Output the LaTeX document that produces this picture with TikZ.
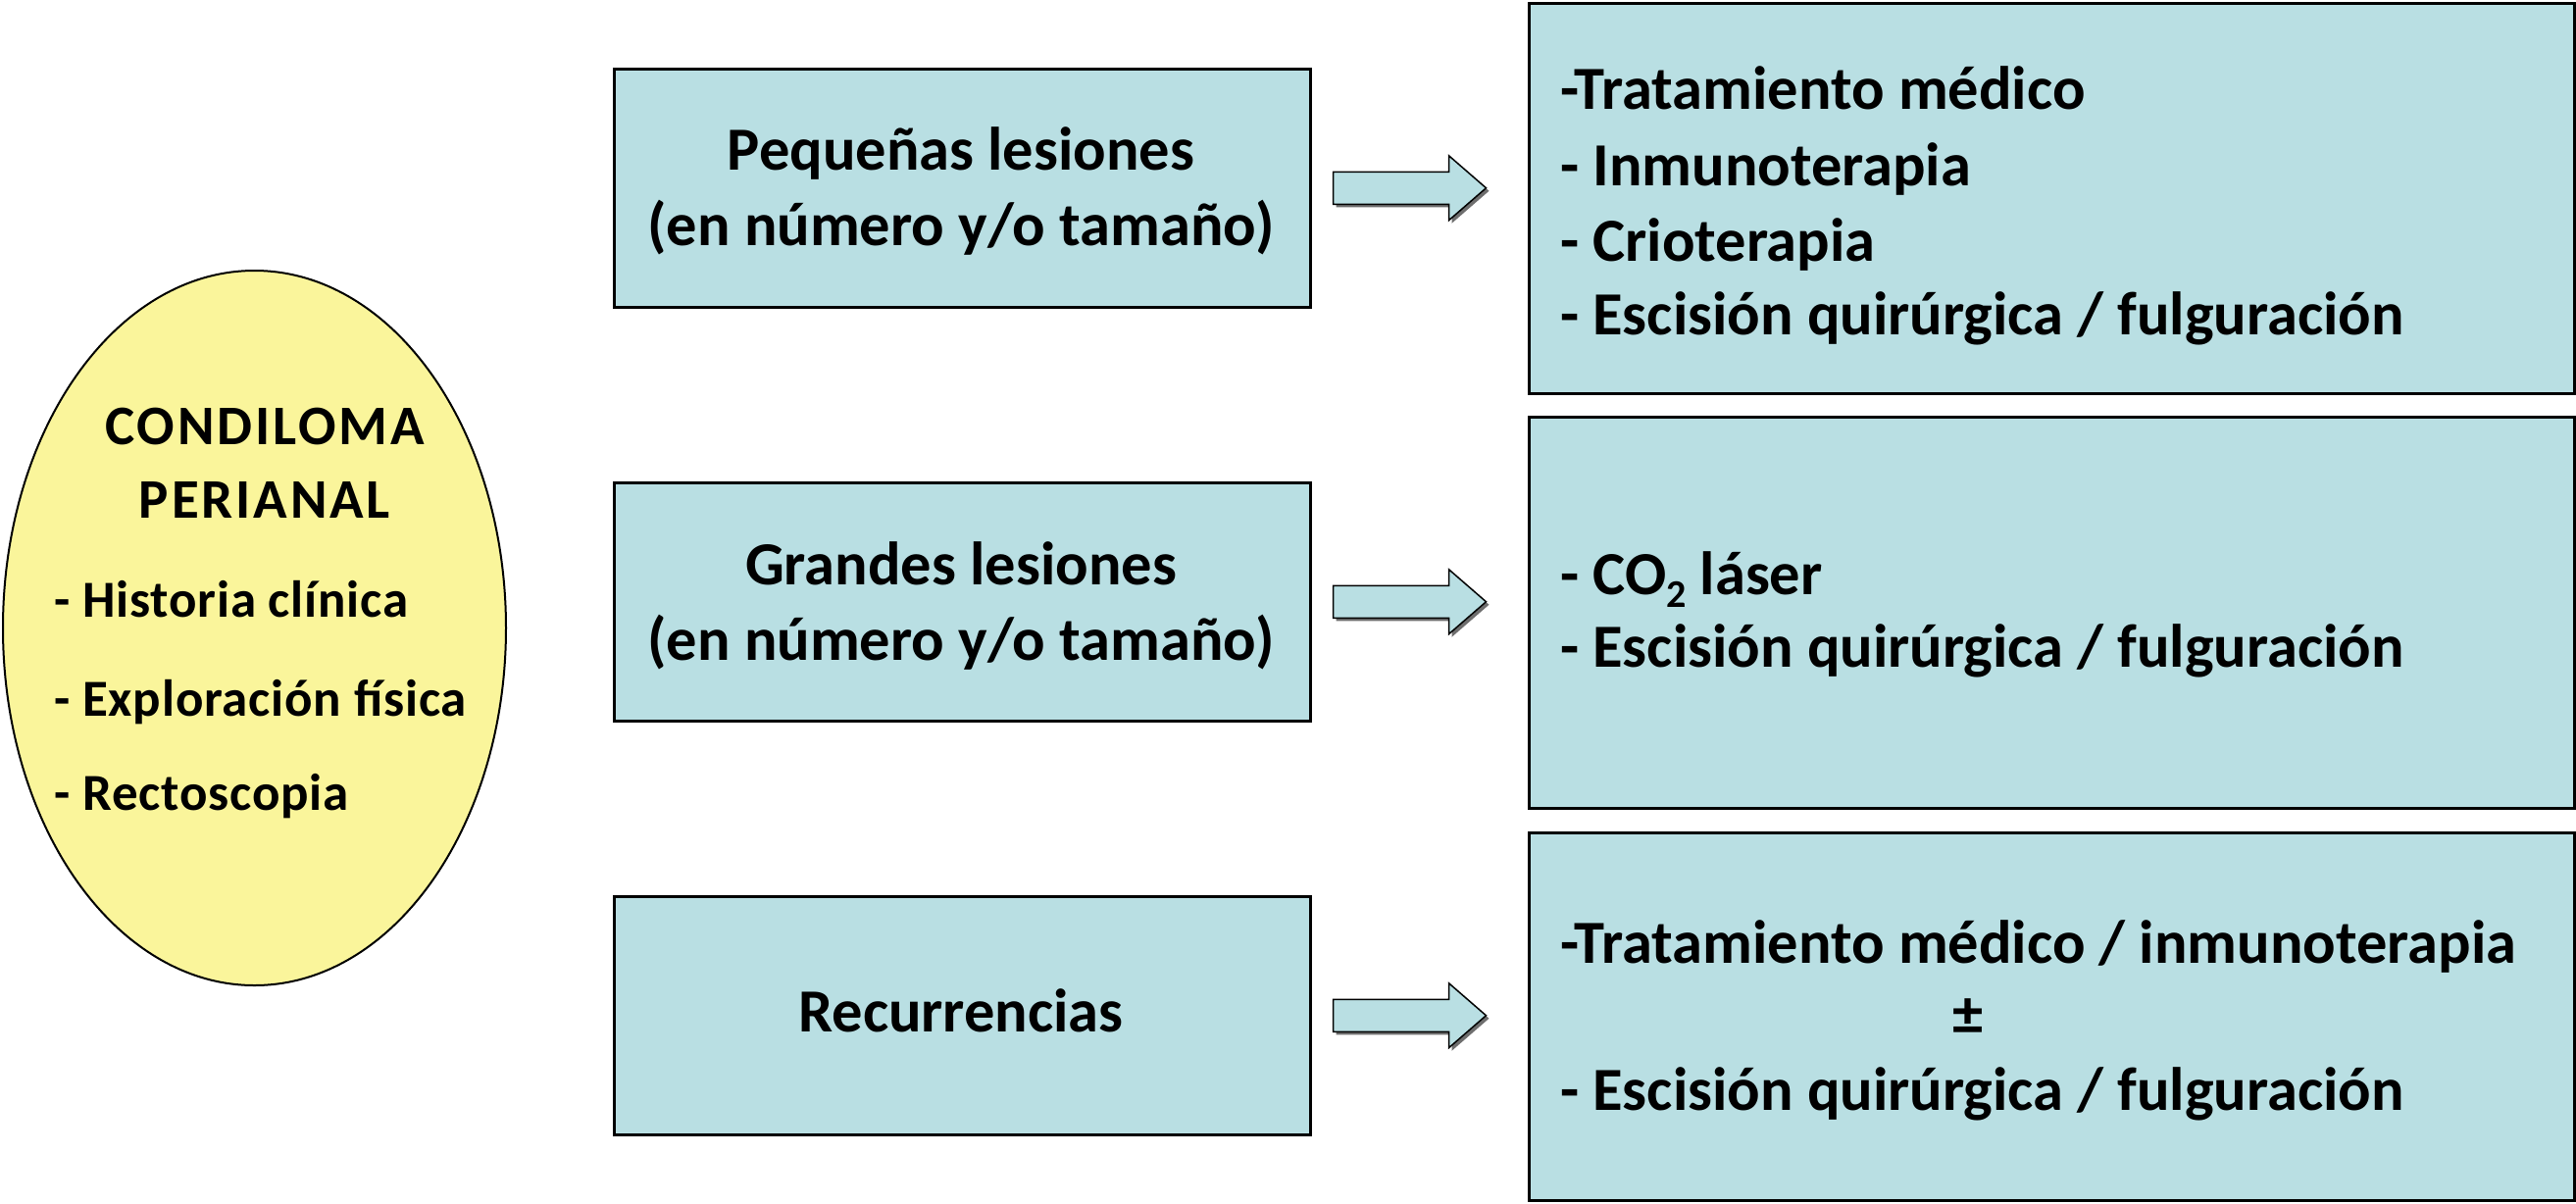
\documentclass[tikz,border=0pt]{standalone}
\usepackage{fontspec}
\setmainfont{Carlito}
\newfontfamily\titlefont[LetterSpace=5]{Carlito}
\newfontfamily\listfont[LetterSpace=1.5]{Carlito}
\usetikzlibrary{shapes.geometric}
\definecolor{boxblue}{RGB}{185,223,227}
\definecolor{ellyellow}{RGB}{250,245,155}
\definecolor{shadowgray}{RGB}{110,110,110}
\begin{document}
\begin{tikzpicture}[x=1pt,y=-1pt,
  midbox/.style={draw=black, line width=2.5pt, fill=boxblue, minimum width=710pt, minimum height=243pt, anchor=north west, inner sep=0pt},
  rbox/.style={draw=black, line width=3pt, fill=boxblue, minimum width=1066pt, anchor=north west, inner sep=0pt},
  txt/.style={font=\fontsize{62.5}{77}\selectfont\bfseries, inner sep=0pt},
  ttxt/.style={font=\titlefont\fontsize{57}{70}\selectfont\bfseries, inner sep=0pt},
  etxt/.style={font=\listfont\fontsize{53}{66}\selectfont\bfseries, inner sep=0pt},
  blockarr/.pic={
    \fill[shadowgray] (3,-13.5) -- (121,-13.5) -- (121,-30) -- (159,3) -- (121,36) -- (121,19.5) -- (3,19.5) -- cycle;
    \draw[black, line width=1.5pt, fill=boxblue, line join=miter] (0,-16.5) -- (118,-16.5) -- (118,-33) -- (156,0) -- (118,33) -- (118,16.5) -- (0,16.5) -- cycle;
  }
]
\useasboundingbox (0,0) rectangle (2627,1227);
\fill[white] (0,0) rectangle (2627,1227);

% ellipse
\node[draw=black, line width=2pt, fill=ellyellow, ellipse, minimum width=513pt, minimum height=729pt, inner sep=0pt] (el) at (259.5,640.5) {};
\node[ttxt, anchor=base] (e1) at (270,453) {CONDILOMA};
\node[ttxt, anchor=base] (e2) at (270,528) {PERIANAL};
\node[etxt, anchor=base west] (e3) at (55,629) {- Historia clínica};
\node[etxt, anchor=base west] (e4) at (55,730) {- Exploración física};
\node[etxt, anchor=base west] (e5) at (55,826) {- Rectoscopia};

% middle boxes
\node[midbox] (m1) at (625,69) {};
\node[midbox] (m2) at (625,491) {};
\node[midbox] (m3) at (625,913) {};
\node[txt, anchor=base] (m1a) at (980,173) {Pequeñas lesiones};
\node[txt, anchor=base] (m1b) at (980,250) {(en número y/o tamaño)};
\node[txt, anchor=base] (m2a) at (980,596) {Grandes lesiones};
\node[txt, anchor=base] (m2b) at (980,673) {(en número y/o tamaño)};
\node[txt, anchor=base] (m3a) at (980,1052) {Recurrencias};

% right boxes
\node[rbox, minimum height=398pt] (r1) at (1558,2) {};
\node[rbox, minimum height=399pt] (r2) at (1558,424) {};
\node[rbox, minimum height=375pt] (r3) at (1558,848) {};

\node[txt, anchor=base west] (r1a) at (1591,111) {-Tratamiento médico};
\node[txt, anchor=base west] (r1b) at (1591,189) {- Inmunoterapia};
\node[txt, anchor=base west] (r1c) at (1591,266) {- Crioterapia};
\node[txt, anchor=base west] (r1d) at (1591,341) {- Escisión quirúrgica / fulguración};

\node[txt, anchor=base west] (r2a) at (1591,606) {- CO\raisebox{-0.22em}{\fontsize{40}{40}\selectfont 2} láser};
\node[txt, anchor=base west] (r2b) at (1591,680) {- Escisión quirúrgica / fulguración};

\node[txt, anchor=base west] (r3a) at (1591,982) {-Tratamiento médico / inmunoterapia};
\node[txt, anchor=base] (r3b) at (2007,1055) {±};
\node[txt, anchor=base west] (r3c) at (1591,1132) {- Escisión quirúrgica / fulguración};

% block arrows
\pic at ([xshift=22pt]m1.east) {blockarr};
\pic at ([xshift=22pt]m2.east) {blockarr};
\pic at ([xshift=22pt]m3.east) {blockarr};
\end{tikzpicture}
\end{document}
